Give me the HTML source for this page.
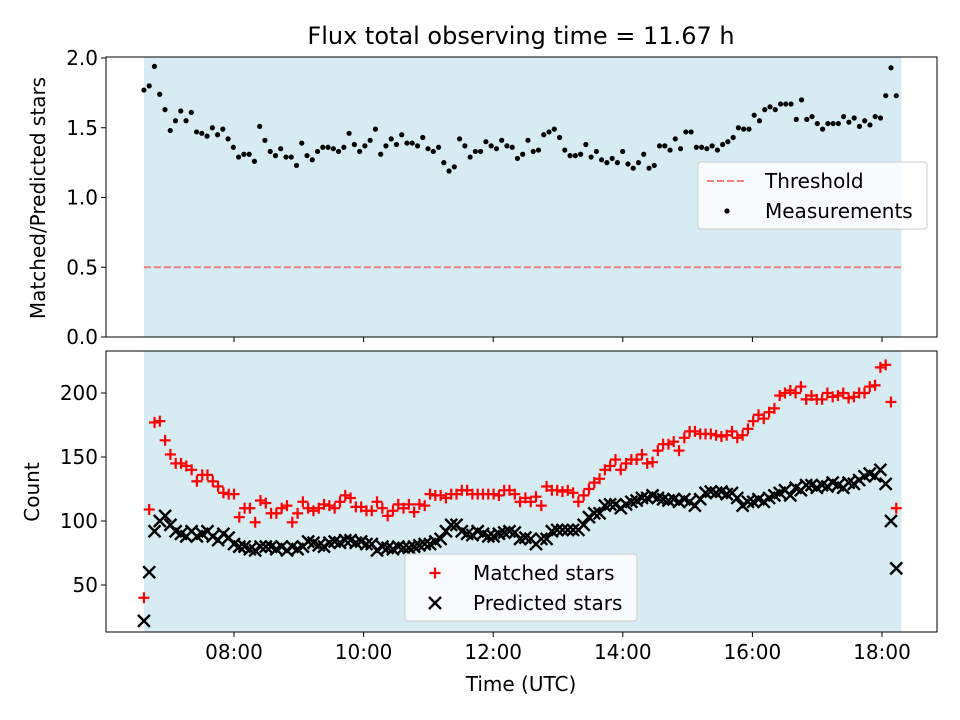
<!DOCTYPE html>
<html><head><meta charset="utf-8"><style>body{margin:0;background:#fff}svg{display:block;font-family:"DejaVu Sans","Liberation Sans",sans-serif}</style></head>
<body>
<svg id="c" width="960" height="720"></svg>
<script>
const ratioValues=[1.77,1.80,1.94,1.74,1.63,1.48,1.55,1.62,1.55,1.61,1.47,1.46,1.44,1.50,1.45,1.49,1.42,1.36,1.29,1.31,1.31,1.26,1.51,1.41,1.33,1.30,1.35,1.29,1.29,1.23,1.39,1.30,1.27,1.33,1.36,1.36,1.35,1.33,1.36,1.46,1.38,1.33,1.37,1.41,1.49,1.31,1.37,1.42,1.38,1.45,1.39,1.39,1.37,1.43,1.35,1.33,1.36,1.25,1.19,1.22,1.42,1.37,1.29,1.33,1.33,1.40,1.37,1.35,1.41,1.37,1.36,1.28,1.31,1.41,1.33,1.34,1.45,1.47,1.49,1.43,1.34,1.30,1.30,1.31,1.38,1.29,1.33,1.27,1.25,1.28,1.25,1.33,1.24,1.21,1.25,1.31,1.21,1.23,1.37,1.37,1.34,1.42,1.35,1.47,1.47,1.36,1.36,1.35,1.37,1.34,1.38,1.40,1.43,1.50,1.49,1.49,1.59,1.55,1.63,1.65,1.63,1.67,1.67,1.67,1.56,1.70,1.56,1.58,1.53,1.49,1.53,1.53,1.53,1.58,1.54,1.57,1.51,1.55,1.52,1.58,1.57,1.73,1.93,1.73];
const matchedValues=[40,109,177,178,163,152,145,145,143,140,131,136,136,131,127,122,121,121,103,110,110,99,116,114,106,106,110,112,99,106,115,110,108,110,113,112,110,115,120,118,111,111,108,108,115,110,104,108,113,110,113,107,113,112,121,120,120,118,121,121,124,124,121,121,121,121,121,120,124,124,121,115,118,115,119,112,127,124,124,123,124,122,115,120,125,130,133,140,143,148,140,145,148,148,152,145,146,155,160,160,162,155,165,170,170,168,168,168,167,166,167,170,165,167,172,178,183,180,185,188,198,200,202,200,205,195,198,195,195,200,197,198,200,196,197,200,200,205,206,220,222,193,110];
const predictedValues=[22,60,92,100,104,97,92,90,88,92,88,90,92,88,85,90,87,82,80,80,78,77,80,80,80,78,80,77,80,78,80,84,83,81,80,83,84,83,85,85,83,84,82,82,77,80,79,78,80,79,79,80,81,82,82,84,86,92,97,97,92,90,89,92,90,88,88,90,91,92,91,86,87,86,82,86,86,92,93,93,93,93,93,97,103,106,106,112,113,113,110,113,115,116,118,118,120,118,117,116,117,115,117,115,112,117,122,123,122,123,121,122,118,112,115,115,117,115,118,120,122,124,120,126,124,128,128,126,128,127,130,128,126,130,129,132,135,137,135,140,129,100,63];
const xTickLabels=["08:00","10:00","12:00","14:00","16:00","18:00"];
const xTickHours=[8,10,12,14,16,18];
const topTicks=[0.0,0.5,1.0,1.5,2.0];
const botTicks=[50,100,150,200];
const startHour=6.61, endHour=18.22, threshold=0.5;

const NS="http://www.w3.org/2000/svg",svg=document.getElementById('c');
function mk(t,a,p){const e=document.createElementNS(NS,t);for(const k in a)e.setAttribute(k,a[k]);(p||svg).appendChild(e);return e;}
const L=106,R=937,FS=20;
const xs=h=>234+(h-8)*64.8;
const yTop=v=>337-v*139.5;
const yBot=v=>585-(v-50)*1.28;
const tAt=(i,n)=>startHour+(endHour-startHour)*i/(n-1);

function axes(top,bot,name){
  const g=mk('g',{});
  
  
  const span=mk('rect',{x:xs(6.61),y:top,width:xs(18.3)-xs(6.61),height:bot-top,fill:'#add8e6','fill-opacity':0.5},g);
  
  
  return g;
}
function frame(g,top,bot){mk('rect',{x:L,y:top,width:R-L,height:bot-top,fill:'none',stroke:'#000','stroke-width':1},g);}

const ti=mk('text',{x:521,y:44,'text-anchor':'middle','font-size':24});ti.textContent='Flux total observing time = 11.67 h';



const gt=axes(57,337,'ratio-axes');
const th=mk('line',{x1:xs(6.61),x2:xs(18.3),y1:yTop(threshold),y2:yTop(threshold),stroke:'#f08080','stroke-width':2,'stroke-dasharray':'7,3'},gt);


ratioValues.forEach((v,i)=>{const c=mk('circle',{cx:xs(tAt(i,ratioValues.length)),cy:yTop(v),r:2.6,fill:'#000'},gt);

});
frame(gt,57,337);
topTicks.forEach(v=>{const y=yTop(v);mk('line',{x1:L-5,x2:L,y1:y,y2:y,stroke:'#000'},gt);
const t=mk('text',{x:L-8,y:y+7,'text-anchor':'end','font-size':FS},gt);t.textContent=v.toFixed(1);

});
xTickHours.forEach(h=>mk('line',{x1:xs(h),x2:xs(h),y1:337,y2:342,stroke:'#000'},gt));
const yl1=mk('text',{x:0,y:0,'text-anchor':'middle','font-size':FS,transform:'translate(45,198) rotate(-90)'});yl1.textContent='Matched/Predicted stars';


const lg1=mk('g',{});


mk('rect',{x:698,y:162,width:229,height:67,rx:3,fill:'#fff','fill-opacity':0.8,stroke:'#ccc'},lg1);
mk('line',{x1:707,x2:747,y1:181,y2:181,stroke:'#f08080','stroke-width':2,'stroke-dasharray':'7,3'},lg1);
let t=mk('text',{x:765,y:188,'font-size':FS},lg1);t.textContent='Threshold';
mk('circle',{cx:727,cy:211,r:2.6,fill:'#000'},lg1);
t=mk('text',{x:765,y:218,'font-size':FS},lg1);t.textContent='Measurements';

const gb=axes(351,632,'count-axes');
function plus(x,y,p){const g=mk('g',{stroke:'#f00','stroke-width':2.2},p);mk('line',{x1:x-5.5,x2:x+5.5,y1:y,y2:y},g);mk('line',{x1:x,x2:x,y1:y-5.5,y2:y+5.5},g);return g;}
function cross(x,y,p){const g=mk('g',{stroke:'#000','stroke-width':2.4},p);mk('line',{x1:x-6,x2:x+6,y1:y-6,y2:y+6},g);mk('line',{x1:x-6,x2:x+6,y1:y+6,y2:y-6},g);return g;}
matchedValues.forEach((v,i)=>{const m=plus(xs(tAt(i,matchedValues.length)),yBot(v),gb);

});
predictedValues.forEach((v,i)=>{const m=cross(xs(tAt(i,predictedValues.length)),yBot(v),gb);

});
frame(gb,351,632);
botTicks.forEach(v=>{const y=yBot(v);mk('line',{x1:L-5,x2:L,y1:y,y2:y,stroke:'#000'},gb);
const t=mk('text',{x:L-8,y:y+7,'text-anchor':'end','font-size':FS},gb);t.textContent=v;

});
xTickHours.forEach((h,i)=>{mk('line',{x1:xs(h),x2:xs(h),y1:632,y2:637,stroke:'#000'},gb);
const t=mk('text',{x:xs(h),y:659,'text-anchor':'middle','font-size':FS},gb);t.textContent=xTickLabels[i];

});
const yl2=mk('text',{x:0,y:0,'text-anchor':'middle','font-size':FS,transform:'translate(39,492) rotate(-90)'});yl2.textContent='Count';


const xl=mk('text',{x:521,y:691,'text-anchor':'middle','font-size':FS});xl.textContent='Time (UTC)';


const lg2=mk('g',{});


mk('rect',{x:405,y:554,width:232,height:67,rx:3,fill:'#fff','fill-opacity':0.8,stroke:'#ccc'},lg2);
plus(435,573,lg2);
t=mk('text',{x:473,y:580,'font-size':FS},lg2);t.textContent='Matched stars';
cross(435,603,lg2);
t=mk('text',{x:473,y:610,'font-size':FS},lg2);t.textContent='Predicted stars';
</script>
</body></html>
